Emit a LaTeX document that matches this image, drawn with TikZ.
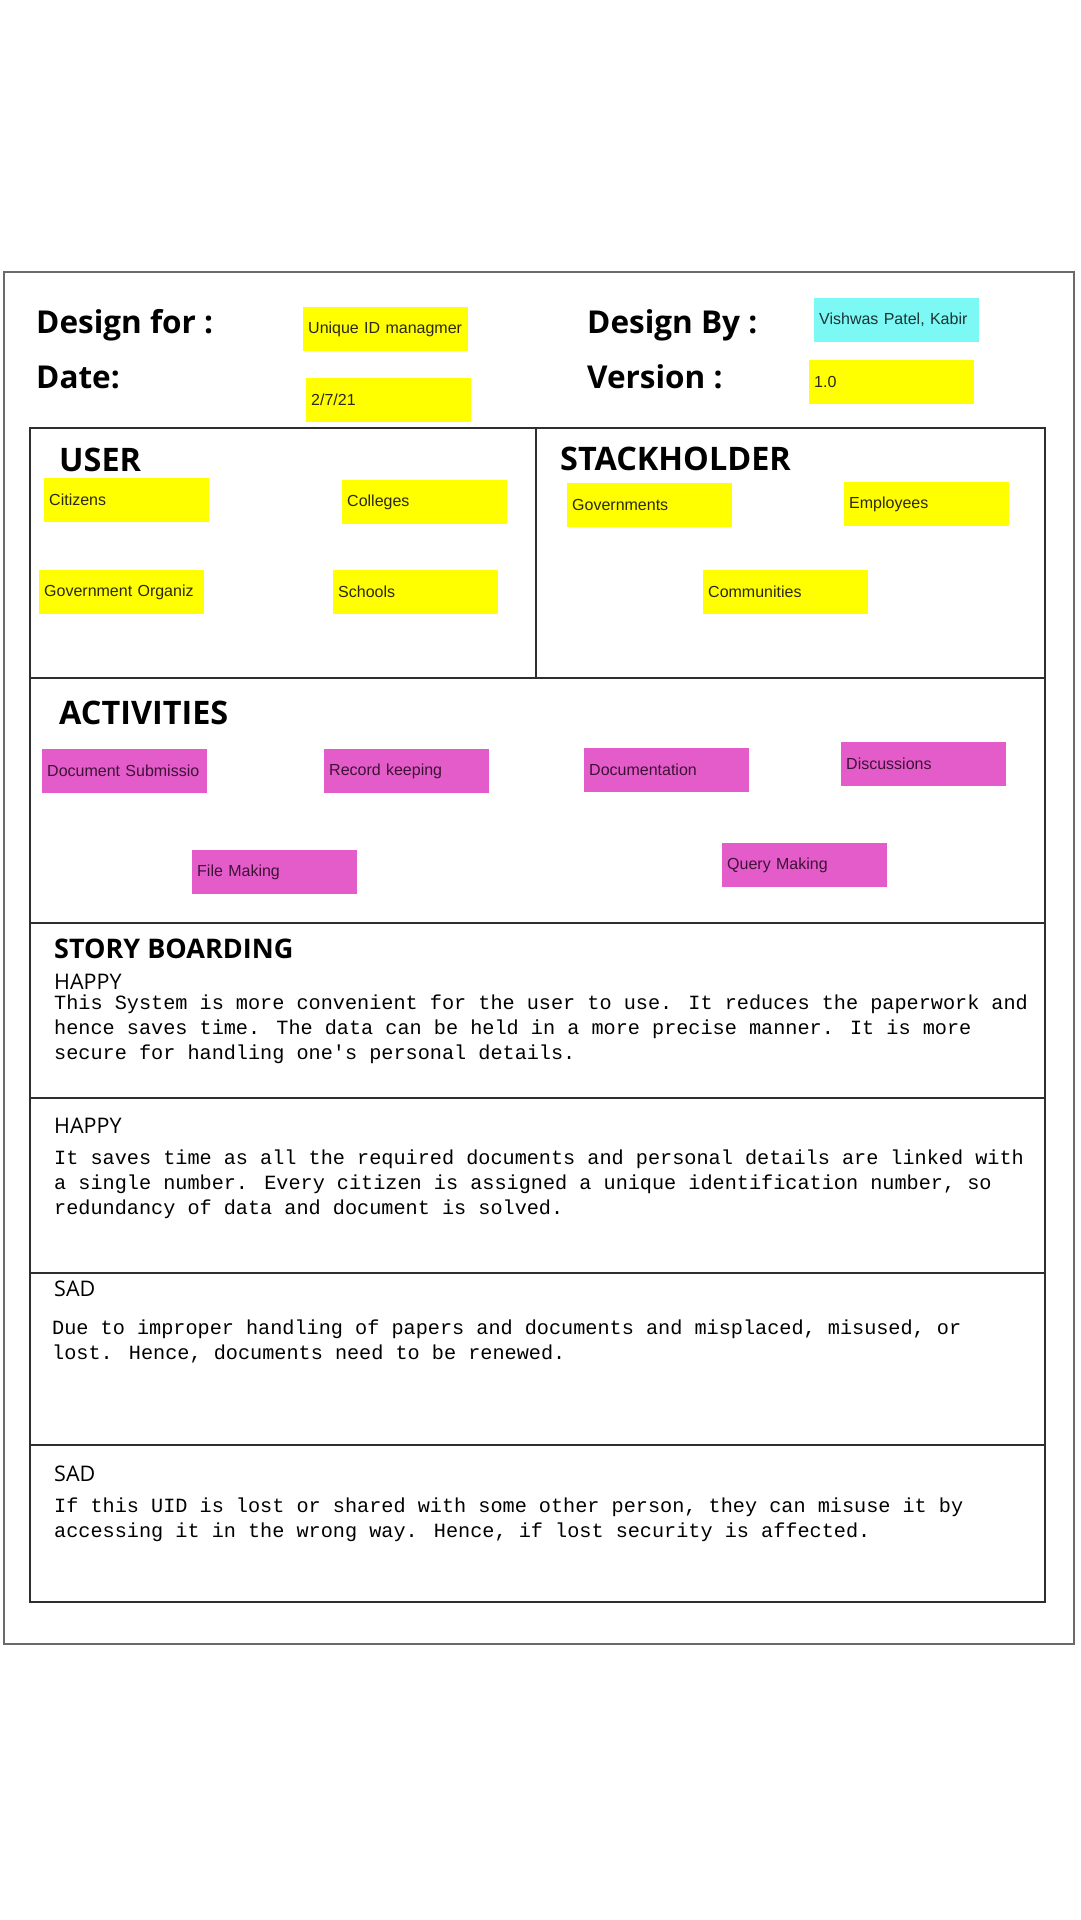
\documentclass[tikz,border=0pt]{standalone}
\usepackage{fontspec}
\setmainfont{Open Sans}
\newfontfamily\headfont{Open Sans}
\newfontfamily\notefont{Liberation Sans}
\newfontfamily\monofont{Liberation Mono}
\definecolor{noteyellow}{HTML}{FFFF00}
\definecolor{notecyan}{HTML}{7CF8F5}
\definecolor{notepink}{HTML}{E45CC9}
\definecolor{framegray}{HTML}{6A6A6A}
\definecolor{linedark}{HTML}{2E2E2E}
\definecolor{yellowtext}{HTML}{2A2A14}
\definecolor{pinktext}{HTML}{3E1236}
\definecolor{cyantext}{HTML}{1E3434}
\begin{document}
\begin{tikzpicture}[x=1pt,y=-1pt,
  notebase/.style={anchor=north west, minimum height=44pt, text width=155pt,
    inner xsep=5pt, inner ysep=0pt, align=left,
    font=\notefont\fontsize{16}{19}\selectfont},
  yellownote/.style={notebase, fill=noteyellow, text=yellowtext},
  pinknote/.style={notebase, fill=notepink, text=pinktext},
  cyannote/.style={notebase, fill=notecyan, text=cyantext},
  bighead/.style={anchor=base west, inner sep=0pt, font=\headfont\bfseries\fontsize{31.5}{36}\selectfont},
  sechead/.style={anchor=base west, inner sep=0pt, font=\headfont\bfseries\fontsize{32.4}{38}\selectfont},
  storyhead/.style={anchor=base west, inner sep=0pt, font=\headfont\bfseries\fontsize{27}{32}\selectfont},
  moodhead/.style={anchor=base west, inner sep=0pt, font=\headfont\fontsize{21.5}{26}\selectfont},
  storytext/.style={anchor=base west, inner sep=0pt, align=left, font=\monofont\fontsize{20.2}{25}\selectfont},
  framebox/.style={draw=framegray, line width=2.2pt},
  gridline/.style={draw=linedark, line width=2.2pt}
]
\useasboundingbox (0,0) rectangle (1080,1920);
\fill[white] (0,0) rectangle (1080,1920);

% outer frame and inner grid
\draw[framebox] (4,272) rectangle (1074,1644);
\draw[gridline] (30,428) rectangle (1045,1602);
\draw[gridline] (536,428) -- (536,678);
\draw[gridline] (30,678) -- (1045,678);
\draw[gridline] (30,923) -- (1045,923);
\draw[gridline] (30,1098) -- (1045,1098);
\draw[gridline] (30,1273) -- (1045,1273);
\draw[gridline] (30,1445) -- (1045,1445);

% header
\node[bighead] (designfor) at (36,333) {Design for :};
\node[bighead] (date) at (36,388) {Date:};
\node[bighead] (designby) at (587,333) {Design By :};
\node[bighead] (version) at (587,388) {Version :};
\node[yellownote] (project) at (303,307) {\mbox{Unique ID managmer}};
\node[yellownote] (dateval) at (306,378) {2/7/21};
\node[cyannote] (authors) at (814,298) {\mbox{Vishwas Patel, Kabir}};
\node[yellownote] (versionval) at (809,360) {1.0};

% user
\node[sechead] (user) at (59,471) {USER};
\node[yellownote] (citizens) at (44,478) {Citizens};
\node[yellownote] (colleges) at (342,480) {Colleges};
\node[yellownote] (govorg) at (39,570) {\mbox{Government Organiz}};
\node[yellownote] (schools) at (333,570) {Schools};

% stakeholder
\node[sechead] (stack) at (560,470) {STACKHOLDER};
\node[yellownote] (governments) at (567,483) {Governments};
\node[yellownote] (employees) at (844,482) {Employees};
\node[yellownote] (communities) at (703,570) {Communities};

% activities
\node[sechead] (activities) at (59,724) {ACTIVITIES};
\node[pinknote] (docsub) at (42,749) {\mbox{Document Submissio}};
\node[pinknote] (record) at (324,749) {Record keeping};
\node[pinknote] (filemaking) at (192,850) {File Making};
\node[pinknote] (documentation) at (584,748) {Documentation};
\node[pinknote] (discussions) at (841,742) {Discussions};
\node[pinknote] (query) at (722,843) {Query Making};

% story boarding (multi-line texts anchored at the baseline of their last line)
\node[storyhead] (story) at (54,958) {STORY BOARDING};
\node[moodhead] (happyone) at (54,989) {HAPPY};
\node[storytext] (textone) at (54,1059) {This System is more convenient for the user to use. It reduces the paperwork and\\hence saves time. The data can be held in a more precise manner. It is more\\secure for handling one{\char39}s personal details.};
\node[moodhead] (happytwo) at (54,1133) {HAPPY};
\node[storytext] (texttwo) at (54,1214) {It saves time as all the required documents and personal details are linked with\\a single number. Every citizen is assigned a unique identification number, so\\redundancy of data and document is solved.};
\node[moodhead] (sadone) at (54,1296) {SAD};
\node[storytext] (textthree) at (52,1359) {Due to improper handling of papers and documents and misplaced, misused, or\\lost. Hence, documents need to be renewed.};
\node[moodhead] (sadtwo) at (54,1481) {SAD};
\node[storytext] (textfour) at (54,1537) {If this UID is lost or shared with some other person, they can misuse it by\\accessing it in the wrong way. Hence, if lost security is affected.};
\end{tikzpicture}
\end{document}
